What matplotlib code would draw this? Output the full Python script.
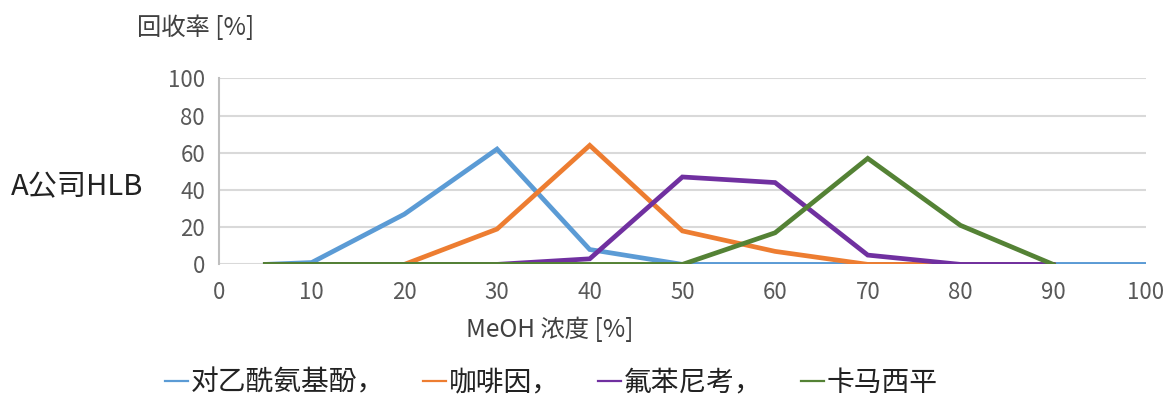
import numpy as np
import matplotlib
matplotlib.use("Agg")
import matplotlib.pyplot as plt

plt.rcParams['font.family'] = ['Noto Sans CJK JP', 'DejaVu Sans']

# ================================
# DATA
# ================================
meoh = [5, 10, 20, 30, 40, 50, 60, 70, 80, 90, 100]
paracetamol = [0, 1, 27, 62, 8, 0, 0, 0, 0, 0, 0]
caffeine = [0, 0, 0, 19, 64, 18, 7, 0, 0, 0, np.nan]
florfenicol = [0, 0, 0, 0, 3, 47, 44, 5, 0, 0, np.nan]
carbamazepine = [0, 0, 0, 0, 0, 0, 17, 57, 21, 0, np.nan]

series_names = ["对乙酰氨基酚，", "咖啡因，", "氟苯尼考，", "卡马西平"]
series_colors = ["#5B9BD5", "#ED7D31", "#7030A0", "#548235"]
x_ticks = [0, 10, 20, 30, 40, 50, 60, 70, 80, 90, 100]
y_ticks = [0, 20, 40, 60, 80, 100]

# ================================
# PLOT
# ================================
fig = plt.figure(figsize=(11.68, 4.0), dpi=100)
ax = fig.add_axes([0.1875, 0.339, 0.7935, 0.465])

all_series = [paracetamol, caffeine, florfenicol, carbamazepine]
for vals, name, col in zip(all_series, series_names, series_colors):
    ax.plot(meoh, vals, color=col, linewidth=3.4, label=name, solid_joinstyle='miter', zorder=3)

ax.set_xlim(0, 100)
ax.set_ylim(0, 100)
ax.set_xticks(x_ticks)
ax.set_yticks(y_ticks)
ax.tick_params(axis='both', length=0, labelsize=16, colors="#595959")
ax.tick_params(axis='x', pad=12)
ax.tick_params(axis='y', pad=10)

ax.grid(axis='y', color="#D9D9D9", linewidth=1.5, zorder=0)
for s in ["top", "right", "bottom"]:
    ax.spines[s].set_visible(False)
ax.spines["left"].set_color("#BFBFBF")
ax.spines["left"].set_linewidth(1.5)

# axis titles
fig.text(0.471, 0.175, "MeOH 浓度 [%]", fontsize=17.5, color="#404040", va='center', ha='center')
fig.text(0.117, 0.93, "回收率 [%]", fontsize=17.5, color="#404040", va='center', ha='left')
fig.text(0.009, 0.532, "A公司HLB", fontsize=21, color="#222222", va='center', ha='left')

fig.legend(loc='center', bbox_to_anchor=(0.472, 0.043), ncol=4, frameon=False,
           fontsize=20, handlelength=0.83, handletextpad=0.1, columnspacing=1.38,
           labelcolor="#222222")
for lh in fig.legends[0].get_lines():
    lh.set_linewidth(1.6)

plt.savefig("out.png", dpi=100)
